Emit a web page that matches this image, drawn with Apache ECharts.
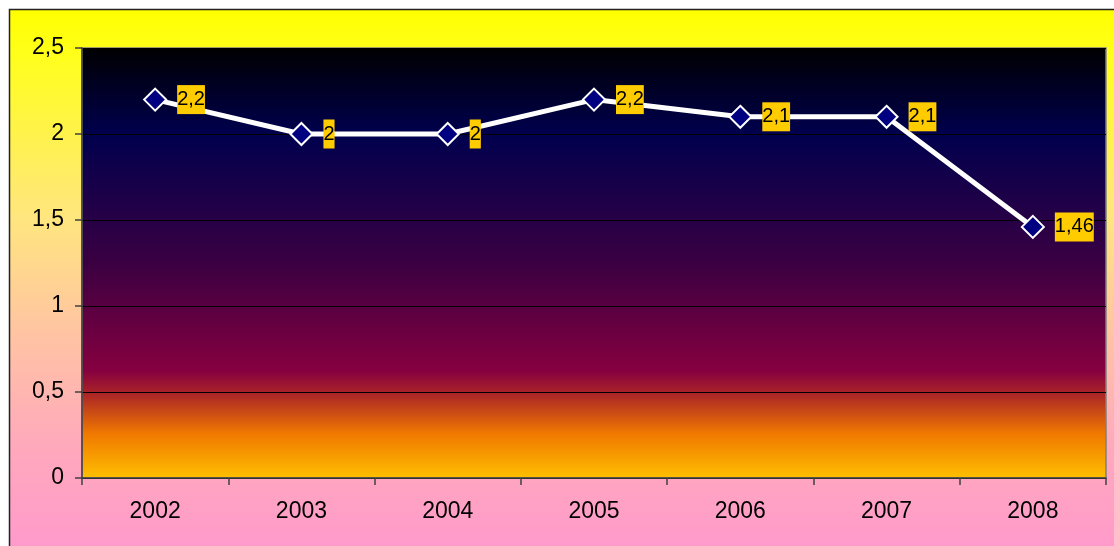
<!DOCTYPE html>
<html>
<head>
<meta charset="utf-8">
<script src="https://cdn.jsdelivr.net/npm/echarts@6/dist/echarts.min.js"></script>
<style>
html,body{margin:0;padding:0;background:#fff;}
#chart{width:1114px;height:546px;}
</style>
</head>
<body>
<div id="chart"></div>
<script>
var years = ['2002','2003','2004','2005','2006','2007','2008'];
var values = [2.2, 2, 2, 2.2, 2.1, 2.1, 1.46];
var yTicks = [0, 0.5, 1, 1.5, 2, 2.5];

var chart = echarts.init(document.getElementById('chart'));
var fmt = function (v) { return String(v).replace('.', ','); };

chart.setOption({
  animation: false,
  backgroundColor: '#ffffff',
  graphic: [{
    type: 'rect',
    z: -10,
    silent: true,
    shape: { x: 9.5, y: 9.5, width: 1200, height: 545 },
    style: {
      fill: new echarts.graphic.LinearGradient(0, 0, 0, 1, [
        { offset: 0, color: '#FFFF00' },
        { offset: 0.08, color: '#FFFF1A' },
        { offset: 0.38, color: '#FFE67E' },
        { offset: 0.6, color: '#FFC3A4' },
        { offset: 0.8, color: '#FFA9BC' },
        { offset: 1, color: '#FF99CC' }
      ]),
      stroke: '#222',
      lineWidth: 1.5
    }
  }],
  grid: {
    left: 82, right: 8, top: 48, bottom: 68,
    show: true,
    borderColor: '#808080',
    borderWidth: 1.5,
    backgroundColor: new echarts.graphic.LinearGradient(0, 0, 0, 1, [
      { offset: 0, color: '#000000' },
      { offset: 0.2, color: '#00004E' },
      { offset: 0.5, color: '#3A0042' },
      { offset: 0.75, color: '#860040' },
      { offset: 0.8, color: '#A82228' },
      { offset: 0.895, color: '#F07800' },
      { offset: 1, color: '#FFC000' }
    ])
  },
  xAxis: {
    type: 'category',
    data: years,
    boundaryGap: true,
    axisLine: { show: true, lineStyle: { color: '#404040', width: 1.5 } },
    axisTick: { show: true, length: 7, lineStyle: { color: '#404040', width: 1.5 } },
    axisLabel: { color: '#000', fontSize: 23, fontFamily: 'Liberation Sans, Arial', margin: 22 },
    splitLine: { show: false }
  },
  yAxis: {
    type: 'value',
    min: yTicks[0],
    max: yTicks[yTicks.length - 1],
    interval: 0.5,
    axisLine: { show: true, lineStyle: { color: '#404040', width: 1.5 } },
    axisTick: { show: true, length: 7, lineStyle: { color: '#404040', width: 1.5 } },
    axisLabel: { color: '#000', fontSize: 23, fontFamily: 'Liberation Sans, Arial', margin: 18, formatter: fmt },
    splitLine: { show: true, lineStyle: { color: '#000', width: 1 } }
  },
  series: [{
    type: 'line',
    data: values,
    symbol: 'diamond',
    symbolSize: [22, 22],
    lineStyle: { color: '#ffffff', width: 5 },
    itemStyle: { color: '#000080', borderColor: '#ffffff', borderWidth: 2 },
    label: {
      show: true,
      position: 'right',
      distance: 10,
      formatter: function (p) { return fmt(p.value); },
      color: '#000',
      fontSize: 20,
      fontFamily: 'Liberation Sans, Arial',
      backgroundColor: '#FFCC00',
      lineHeight: 28,
      padding: [1, 0, 0, 0]
    }
  }]
});
</script>
</body>
</html>
